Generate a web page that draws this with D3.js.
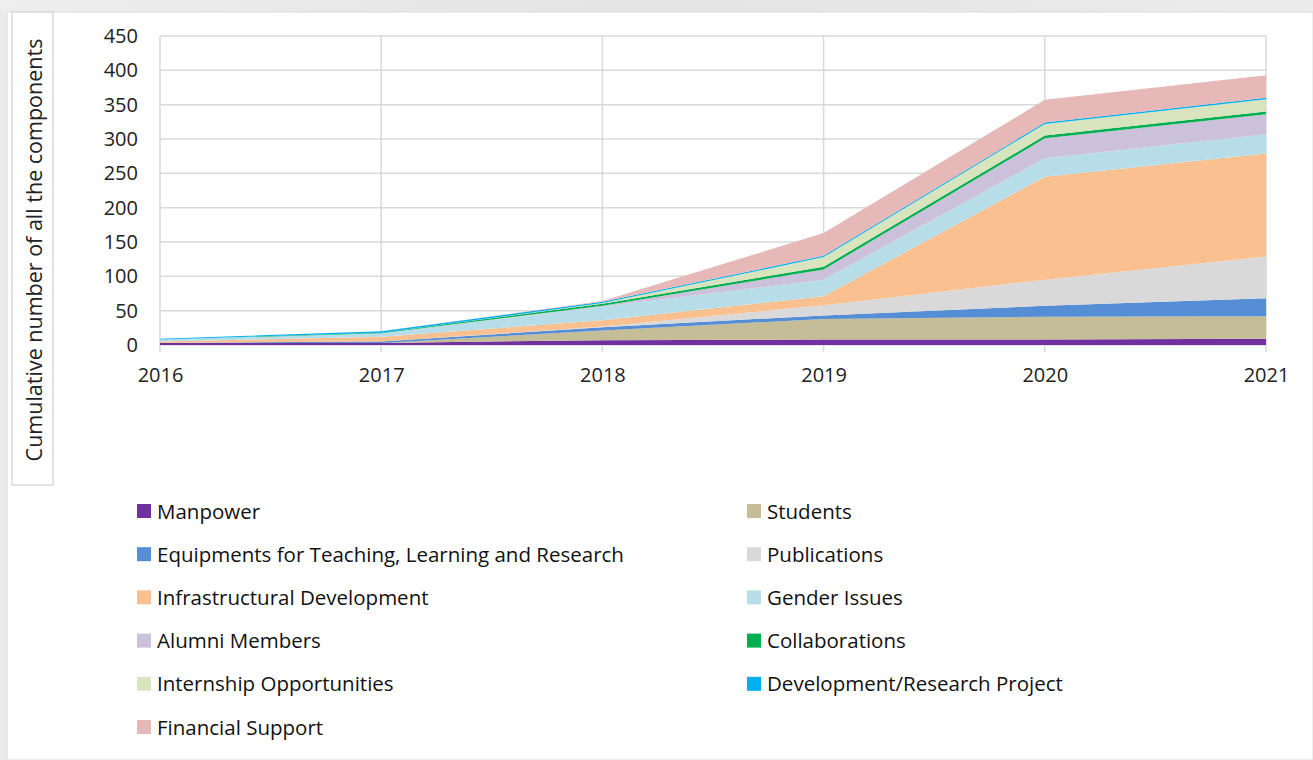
<!DOCTYPE html>
<html>
<head>
<meta charset="utf-8">
<script src="https://cdn.jsdelivr.net/npm/d3@7"></script>
<style>
    body { margin: 0; background: #ebebeb; font-family: "Open Sans", "Noto Sans", sans-serif; }
    svg { display: block; }
</style>
</head>
<body>
<div id="chart"></div>
<script>
// Data (values per year, stacked bottom to top)
const years = [2016, 2017, 2018, 2019, 2020, 2021];
const manpower = [3, 3, 7, 8, 8, 9];
const students = [0, 0, 14, 30, 33, 33];
const equipments = [0, 2, 5, 5, 16, 26];
const publications = [0, 0, 1, 15, 38, 61];
const infrastructure = [2, 7, 9, 13, 150, 150];
const gender = [3, 5, 20, 24, 27, 28];
const alumni = [0, 0, 1, 15, 29, 29];
const collaborations = [0, 1, 3, 4, 4, 4];
const internship = [0, 0, 1, 14, 17, 18];
const devProject = [1, 2, 2, 2, 2, 2];
const financial = [0, 0, 1, 33, 33, 33];

const seriesNames = [
    "Manpower", "Students", "Equipments for Teaching, Learning and Research", "Publications",
    "Infrastructural Development", "Gender Issues", "Alumni Members", "Collaborations",
    "Internship Opportunities", "Development/Research Project", "Financial Support"
];
const seriesValues = [manpower, students, equipments, publications, infrastructure, gender,
    alumni, collaborations, internship, devProject, financial];
const colors = ["#7030a0", "#c4bd97", "#558ed5", "#d9d9d9", "#fac090", "#b7dee8",
    "#ccc1da", "#00b050", "#d7e4bd", "#00b0f0", "#e6b9b8"];
const yTicks = [0, 50, 100, 150, 200, 250, 300, 350, 400, 450];

const W = 1313, H = 760;
const font = "'Open Sans', 'Noto Sans', sans-serif";

// rows for d3.stack
const rows = years.map((y, i) => {
    const r = { year: y };
    seriesNames.forEach((n, k) => r[n] = seriesValues[k][i]);
    return r;
});

const svg = d3.select("#chart")
    .append("svg")
    .attr("width", W)
    .attr("height", H);

// background frame
const grad = svg.append("defs").append("linearGradient")
    .attr("id", "topband").attr("x1", 0).attr("x2", 1);
grad.append("stop").attr("offset", "0").attr("stop-color", "#eeeeee");
grad.append("stop").attr("offset", "0.5").attr("stop-color", "#e4e4e4");
grad.append("stop").attr("offset", "1").attr("stop-color", "#ececec");
svg.append("rect").attr("width", W).attr("height", 12).attr("fill", "url(#topband)");
svg.append("rect")
    .attr("x", 7).attr("y", 12)
    .attr("width", W - 7).attr("height", H - 12)
    .attr("fill", "#ffffff")
    .attr("stroke", "#dcdcdc");

// Scales
const x = d3.scaleLinear().domain([2016, 2021]).range([160, 1266]);
const y = d3.scaleLinear().domain([0, 450]).range([345, 36]);

// Gridlines
svg.append("g")
    .selectAll("line")
    .data(yTicks)
    .enter().append("line")
    .attr("x1", x(2016)).attr("x2", x(2021))
    .attr("y1", d => y(d)).attr("y2", d => y(d))
    .attr("stroke", "#d9d9d9")
    .attr("stroke-width", 1.5);

svg.append("g")
    .selectAll("line")
    .data(years)
    .enter().append("line")
    .attr("x1", d => x(d)).attr("x2", d => x(d))
    .attr("y1", y(450)).attr("y2", y(0) + 7)
    .attr("stroke", "#d9d9d9")
    .attr("stroke-width", 1.5);

// Stacked areas
const stack = d3.stack().keys(seriesNames);
const layers = stack(rows);

const area = d3.area()
    .x(d => x(d.data.year))
    .y0(d => y(d[0]))
    .y1(d => y(d[1]));

svg.append("g")
    .selectAll("path")
    .data(layers)
    .enter().append("path")
    .attr("d", area)
    .attr("fill", (d, i) => colors[i]);

// Axes
const yAxis = d3.axisLeft(y).tickValues(yTicks).tickSize(0).tickPadding(0);
const gy = svg.append("g")
    .attr("transform", "translate(138,0)")
    .call(yAxis);
gy.select(".domain").remove();
gy.selectAll("text")
    .attr("font-family", font)
    .attr("font-size", 20)
    .attr("fill", "#222");

const xAxis = d3.axisBottom(x).tickValues(years).tickFormat(d3.format("d")).tickSize(0).tickPadding(0);
const gx = svg.append("g")
    .attr("transform", "translate(0,368)")
    .call(xAxis);
gx.select(".domain").remove();
gx.selectAll("text")
    .attr("font-family", font)
    .attr("font-size", 20)
    .attr("fill", "#222");

// Y axis title in a box
svg.append("rect")
    .attr("x", 12).attr("y", 12)
    .attr("width", 41).attr("height", 473)
    .attr("fill", "#ffffff")
    .attr("stroke", "#d9d9d9")
    .attr("stroke-width", 1.5);

svg.append("text")
    .attr("transform", "translate(42,250) rotate(-90)")
    .attr("text-anchor", "middle")
    .attr("font-family", font)
    .attr("font-size", 21.5)
    .attr("fill", "#222")
    .text("Cumulative number of all the components");

// Legend (two columns)
const legend = svg.append("g")
    .selectAll("g")
    .data(seriesNames)
    .enter().append("g")
    .attr("transform", (d, i) => `translate(${i % 2 === 0 ? 137 : 747},${511 + Math.floor(i / 2) * 43.2})`);

legend.append("rect")
    .attr("x", 0).attr("y", -7)
    .attr("width", 14).attr("height", 14)
    .attr("fill", (d, i) => colors[i]);

legend.append("text")
    .attr("x", 20)
    .attr("y", 7.5)
    .attr("font-family", font)
    .attr("font-size", 20.5)
    .attr("fill", "#111")
    .text(d => d);
</script>
</body>
</html>
